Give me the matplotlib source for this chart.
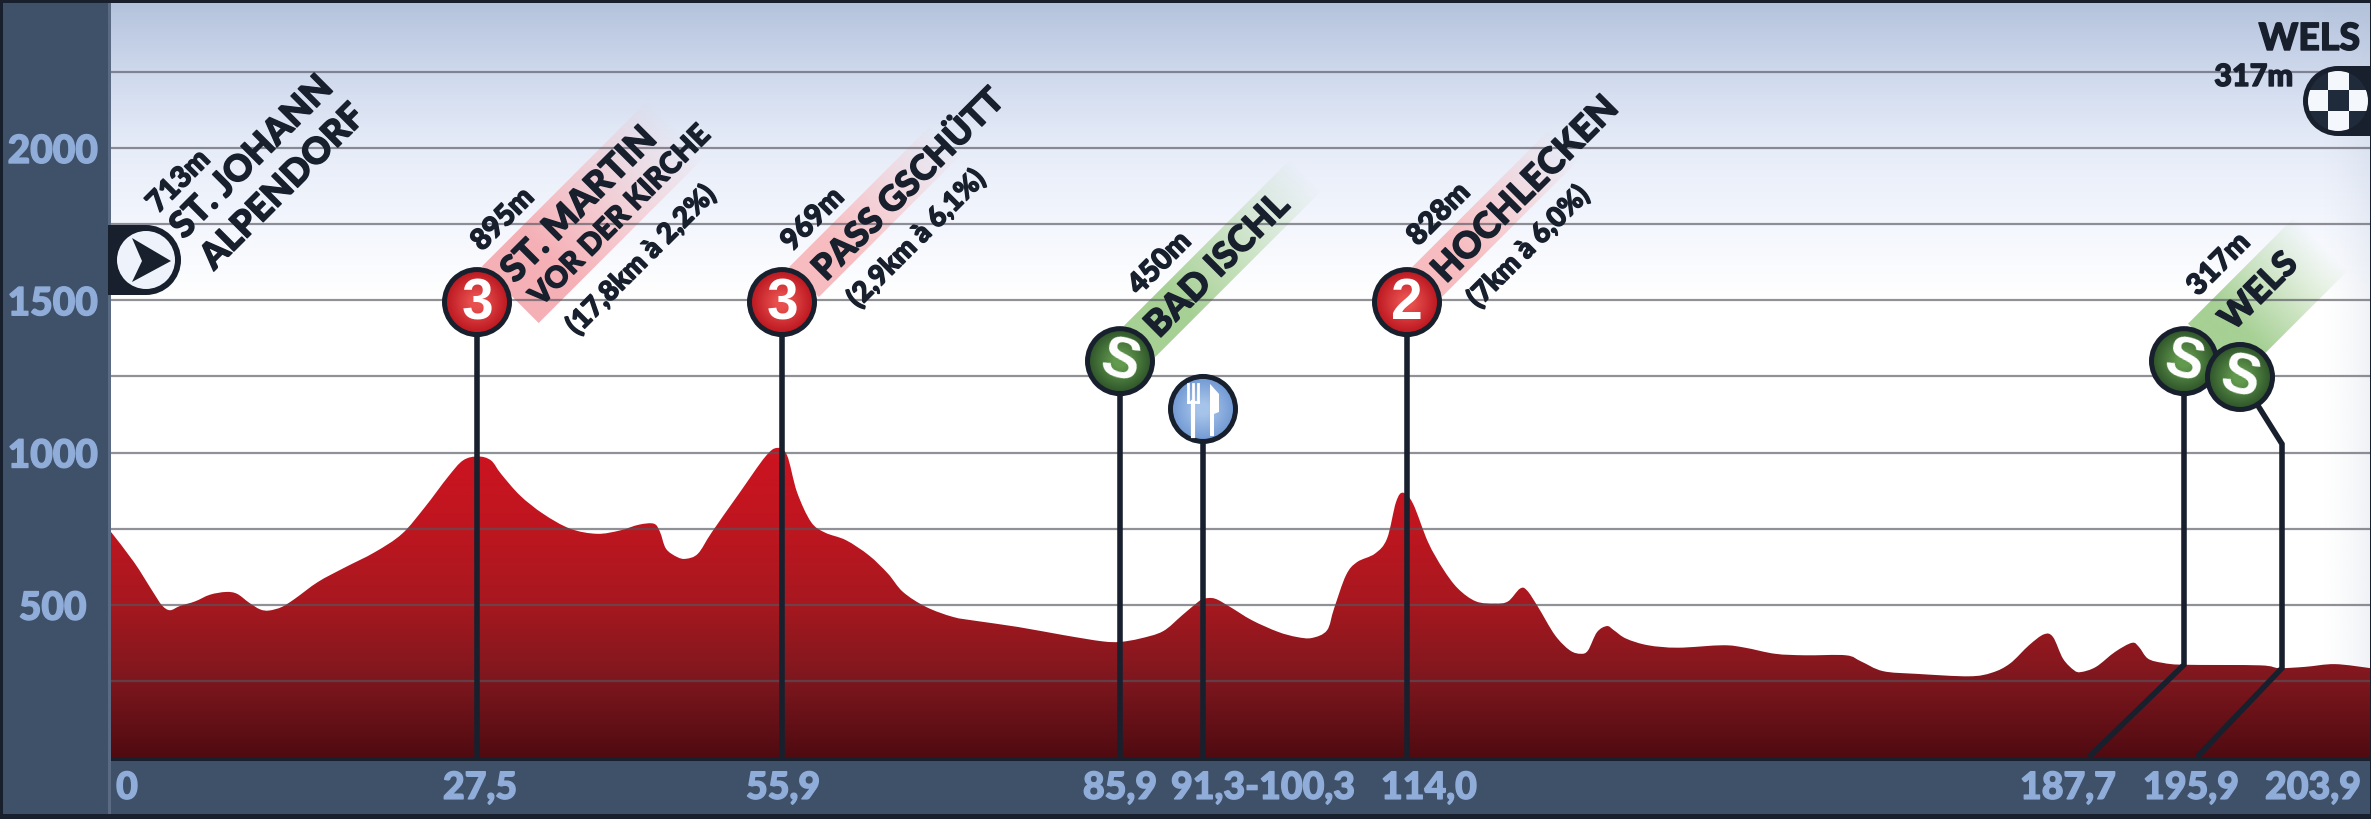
"""Stage profile St. Johann Alpendorf - Wels, redrawn from the picture."""

import matplotlib
matplotlib.use("Agg")
import matplotlib.patheffects as pe
import matplotlib.pyplot as plt
import numpy as np
from matplotlib.colors import LinearSegmentedColormap, to_rgb
from matplotlib.patches import Circle, PathPatch, Polygon, Rectangle
from matplotlib.path import Path
from matplotlib.transforms import Affine2D, IdentityTransform

W, H = 2371, 820
FONT = ["Lato", "DejaVu Sans"]
INK = "#18202e"
PANEL = "#3f5069"
TICK_COL = "#8fadd8"
PX_PER_M = 0.3045

# route position on the drawn axis (the picture's x axis is not linear in km)
PROFILE_X = [111, 134, 153, 162, 170, 180, 195, 210, 226, 237, 249, 260, 269, 282, 295,
             318, 344, 375, 402, 425, 448, 463, 478, 491, 501, 520, 543, 570, 597, 620,
             639, 654, 660, 666, 677, 686, 698, 712, 739, 765, 777, 787, 797, 811, 825,
             846, 869, 888, 903, 926, 953, 976, 1018, 1064, 1102, 1120, 1140, 1163, 1182, 1198,
             1204, 1215, 1230, 1252, 1278, 1297, 1312, 1327, 1334, 1346, 1357, 1375, 1387, 1396, 1403,
             1413, 1428, 1443, 1458, 1476, 1495, 1508, 1520, 1527, 1538, 1555, 1570, 1581, 1588, 1597,
             1607, 1614, 1626, 1648, 1678, 1723, 1745, 1775, 1805, 1846, 1861, 1883, 1917, 1969, 1992,
             2010, 2029, 2044, 2053, 2063, 2074, 2081, 2096, 2115, 2132, 2139, 2148, 2163, 2184, 2260,
             2279, 2305, 2335, 2370]
PROFILE_M = [739, 640, 542, 498, 482, 496, 511, 533, 542, 536, 507, 485, 481, 493, 520,
             575, 621, 673, 733, 821, 920, 974, 987, 974, 930, 859, 799, 750, 733, 744,
             763, 766, 739, 684, 657, 651, 668, 739, 865, 985, 1015, 991, 870, 772, 737,
             712, 662, 602, 542, 493, 460, 447, 427, 400, 380, 378, 389, 413, 465, 509,
             520, 520, 493, 449, 411, 394, 391, 416, 487, 597, 640, 668, 717, 837, 868,
             832, 706, 618, 553, 511, 504, 511, 553, 547, 493, 400, 350, 339, 350, 410,
             430, 416, 389, 367, 359, 367, 359, 339, 334, 334, 314, 282, 273, 265, 277,
             307, 367, 403, 394, 323, 285, 279, 296, 345, 375, 361, 323, 309, 303, 301,
             292, 296, 305, 292]

GRID_LEVELS = [250, 500, 750, 1000, 1250, 1500, 1750, 2000, 2250]
Y_TICKS = [500, 1000, 1500, 2000]
X_LABEL_POS = [127, 480, 783, 1120, 1263, 1429, 2068, 2191, 2313]
X_LABELS = ["0", "27,5", "55,9", "85,9", "91,3-100,3", "114,0", "187,7", "195,9", "203,9"]

# badges: x position, height on the elevation axis, letter, colours
BADGE_X = [477, 782, 1120, 1407, 2184, 2240]
BADGE_M = [1494, 1494, 1300, 1494, 1300, 1248]
BADGE_TXT = ["3", "3", "S", "2", "S", "S"]
RED = ("#e8504e", "#b9141d")
GREEN = ("#629a4e", "#2c5128")
BADGE_COL = [RED, RED, GREEN, RED, GREEN, GREEN]
FOOD_X, FOOD_M = 1203, 1143

# slanted text: picture position of the baseline start, size, string
SLANT_X = [184, 214, 158, 482, 515, 541, 577, 792, 826, 858, 1139, 1159, 1418, 1446, 1478, 2198, 2233]
SLANT_Y = [241, 272, 215, 253, 285, 308, 337, 253, 283, 310, 297, 340, 248, 285, 310, 298, 333]
SLANT_SIZE = [26, 26, 21, 21, 26, 21, 20, 21, 25, 20, 21, 26, 21, 26, 20, 21, 25]
SLANT_TXT = ["ST. JOHANN", "ALPENDORF", "713m", "895m", "ST. MARTIN", "VOR DER KIRCHE",
             "(17,8km à 2,2%)", "969m", "PASS GSCHÜTT", "(2,9km à 6,1%)", "450m", "BAD ISCHL",
             "828m", "HOCHLECKEN", "(7km à 6,0%)", "317m", "WELS"]

# coloured strips behind the names: start corner, length, width
BAND_X = [482, 789, 1124, 1412, 2188]
BAND_Y = [267, 268, 327, 268, 325]
BAND_LEN = [235, 200, 235, 195, 150]
BAND_WID = [80, 42, 44, 42, 75]
BAND_COL = ["#f5b0b6", "#f7bcc0", "#a6d094", "#f7bcc0", "#a6d094"]

# picture pixels, y downwards
PX = Affine2D().scale(1, -1).translate(0, H)


def hex_ramp(stops, colours, n=400):
    """Vertical colour ramp, first row is the top of the image."""
    pos = np.linspace(stops[0], stops[-1], n)
    rgb = np.array([to_rgb(c) for c in colours])
    return np.stack([np.interp(pos, stops, rgb[:, i]) for i in range(3)], axis=1)[:, None, :]


def profile_path(xs, ys):
    """Closed outline through the read points, drawn with smooth bezier segments."""
    pts = np.column_stack([xs, ys]).astype(float)
    verts = [pts[0]]
    codes = [Path.MOVETO]
    for i in range(len(pts) - 1):
        prev = pts[max(i - 1, 0)]
        nxt = pts[min(i + 2, len(pts) - 1)]
        verts += [pts[i] + (pts[i + 1] - prev) / 6, pts[i + 1] - (nxt - pts[i]) / 6, pts[i + 1]]
        codes += [Path.CURVE4] * 3
    verts += [(xs[-1], 0), (xs[0], 0), pts[0]]
    codes += [Path.LINETO, Path.LINETO, Path.CLOSEPOLY]
    return Path(verts, codes)


def badge(ax, cx, cy, inner, outer, zorder=6, r=35, ring=5):
    """Round sign with dark ring and a soft radial fill, centre in display px."""
    ax.add_patch(Circle((cx, cy), r, transform=IdentityTransform(), fc=INK, ec="none", zorder=zorder))
    yy, xx = np.mgrid[-1:1:80j, -1:1:80j]
    cmap = LinearSegmentedColormap.from_list("b", [inner, outer])
    rim = Circle((cx, cy), r - ring, transform=IdentityTransform(), fc="none", ec="none", zorder=zorder)
    ax.add_patch(rim)
    s = r - ring
    im = ax.imshow(np.hypot(xx, yy), cmap=cmap, vmin=0.2, vmax=1.1, aspect="auto", zorder=zorder,
                   extent=(0, 1, 0, 1), transform=Affine2D().scale(2 * s).translate(cx - s, cy - s))
    im.set_clip_path(rim)


def band(ax, x, y, length, width, colour):
    """Strip running up at 45 degrees, fading out towards its far end."""
    rgba = np.zeros((1, 200, 4))
    rgba[..., :3] = to_rgb(colour)
    rgba[..., 3] = np.clip((1 - np.linspace(0, 1, 200)) * 1.3, 0, 1)
    px, py = PX.transform((x, y))
    tr = Affine2D().scale(length, -width).rotate_deg(45).translate(px, py)
    ax.imshow(rgba, aspect="auto", extent=(0, 1, 0, 1), transform=tr, zorder=2,
              interpolation="bilinear", clip_on=False)


def main():
    fig = plt.figure(figsize=(W / 100, H / 100), dpi=100, facecolor=INK)
    fig.add_artist(Rectangle((3, 4), 105, 811, transform=PX, fc=PANEL, ec="none"))
    fig.add_artist(Rectangle((108, 4), 3, 811, transform=PX, fc="#5a6a83", ec="none"))
    fig.add_artist(Rectangle((111, 762), 2259, 53, transform=PX, fc=PANEL, ec="none"))

    ax = fig.add_axes([111 / W, 62 / H, 2259 / W, 754 / H])
    ax.set_zorder(5)
    ax.set_xlim(111, 2370)
    top_m = 754 / PX_PER_M
    ax.set_ylim(0, top_m)
    ax.set_autoscale_on(False)
    for s in ax.spines.values():
        s.set_visible(False)

    # sky
    sky = hex_ramp([0, 69, 143, 219, 296, 754], ["#b4c3dc", "#cfd9ed", "#e6ecf8", "#f3f6fd", "#ffffff", "#ffffff"])
    ax.imshow(sky, aspect="auto", extent=(0, 1, 0, 1), transform=ax.transAxes, zorder=0)
    fade = np.zeros((1, 100, 4))
    fade[..., :3] = to_rgb("#b4c0d4")
    fade[..., 3] = np.linspace(0, 0.35, 100) ** 1.5
    ax.imshow(fade, aspect="auto", extent=(2320, 2370, 0, top_m), zorder=0.5)

    for x, y, ln, wd, col in zip(BAND_X, BAND_Y, BAND_LEN, BAND_WID, BAND_COL):
        band(ax, x, y, ln, wd, col)

    # profile with vertical gradient
    ramp = hex_ramp([0, 260, 510, 760, 1020], ["#cc1420", "#bf1620", "#a8181f", "#7f171e", "#4f0b11"])
    shape = PathPatch(profile_path(PROFILE_X, PROFILE_M), fc="none", ec="none", zorder=3)
    ax.add_patch(shape)
    im = ax.imshow(ramp, aspect="auto", extent=(111, 2370, 0, 1020), zorder=3)
    im.set_clip_path(shape)

    ax.hlines(GRID_LEVELS, 111, 2370, colors="#55555f", linewidth=1.6, alpha=0.65, zorder=4)

    # poles
    pole = dict(color=INK, lw=4, zorder=5, solid_capstyle="butt", solid_joinstyle="miter")
    for x, m in zip(BADGE_X[:4], BADGE_M[:4]):
        ax.plot([x, x], [m, 0], **pole)
    ax.plot([FOOD_X, FOOD_X], [FOOD_M, 0], **pole)
    ax.plot([2184, 2184, 2089], [1300, 303, 0], **pole)
    ax.plot([2240, 2282, 2282, 2197], [1248, 1028, 292, 0], **pole)

    for x, m, txt, col in zip(BADGE_X, BADGE_M, BADGE_TXT, BADGE_COL):
        cx, cy = ax.transData.transform((x, m))
        badge(ax, cx, cy, col[0], col[1])
        ax.text(cx, cy - 1, txt, transform=IdentityTransform(), color="white", ha="center", va="center",
                family="Liberation Sans", fontweight="bold", fontsize=41, zorder=7,
                rotation=-15 if txt == "S" else 0)

    # lunch sign
    cx, cy = ax.transData.transform((FOOD_X, FOOD_M))
    ident = IdentityTransform()
    badge(ax, cx, cy, "#a6c4ea", "#6f97d2")
    for dx in (-15, -10, -5):
        ax.plot([cx + dx, cx + dx], [cy + 25, cy + 7], color="white", lw=2, transform=ident, zorder=7)
    ax.plot([cx - 15, cx - 5], [cy + 7, cy + 7], color="white", lw=2, transform=ident, zorder=7)
    ax.plot([cx - 10, cx - 10], [cy + 7, cy - 27], color="white", lw=3, transform=ident, zorder=7)
    ax.add_patch(Polygon([(cx + 7, cy + 25), (cx + 16, cy + 15), (cx + 16, cy - 3), (cx + 11, cy - 5),
                          (cx + 11, cy - 27), (cx + 7, cy - 27)], transform=ident,
                         fc="white", ec="none", zorder=7))

    # start tab
    ax.add_patch(Rectangle((108, 226), 38, 70, transform=PX, fc=INK, ec="none", zorder=6, clip_on=False))
    ax.add_patch(Circle((146, 261), 35, transform=PX, fc=INK, ec="none", zorder=6))
    ax.add_patch(Circle((146, 261), 29, transform=PX, fc="#eef2fa", ec="none", zorder=6))
    ax.add_patch(Polygon([(132, 239), (171, 262), (132, 283), (142, 262)], transform=PX, fc=INK, ec="none", zorder=7))

    # finish tab with checker
    ax.add_patch(Rectangle((2338, 67), 33, 70, transform=PX, fc=INK, ec="none", zorder=6, clip_on=False))
    ax.add_patch(Circle((2338, 102), 35, transform=PX, fc=INK, ec="none", zorder=6))
    ring = Circle((2338, 102), 30, transform=PX, fc="none", ec="none", zorder=7)
    ax.add_patch(ring)
    px, py = PX.transform((2338, 102))
    checker = ax.imshow([[0, 1, 0], [1, 0, 1], [0, 1, 0]],
                        cmap=LinearSegmentedColormap.from_list("c", ["#1f2a3b", "#f4f7fc"]),
                        aspect="auto", extent=(0, 1, 0, 1), zorder=7, interpolation="nearest",
                        transform=Affine2D().scale(63).translate(px - 31.5, py - 31.5))
    checker.set_clip_path(ring)

    # the reference lettering is heavier than any installed face, so thicken it a little
    heavy = [pe.withStroke(linewidth=1.0, foreground=INK)]

    # slanted names
    for x, y, size, txt in zip(SLANT_X, SLANT_Y, SLANT_SIZE, SLANT_TXT):
        ax.text(x, y, txt, transform=PX, rotation=45, rotation_mode="anchor", ha="left", va="baseline",
                family=FONT, fontweight="black", fontsize=size, color=INK, zorder=8, clip_on=False,
                path_effects=heavy)
    ax.text(2360, 51, "WELS", transform=PX, ha="right", va="baseline", family=FONT, fontweight="black",
            fontsize=27, color=INK, zorder=8, path_effects=heavy)
    ax.text(2293, 87, "317m", transform=PX, ha="right", va="baseline", family=FONT, fontweight="black",
            fontsize=22, color=INK, zorder=8, path_effects=heavy)

    # axis labels
    tick_heavy = [pe.withStroke(linewidth=1.0, foreground=TICK_COL)]
    ax.set_yticks(Y_TICKS)
    ax.set_yticklabels([str(v) for v in Y_TICKS], family=FONT, fontweight="black", fontsize=28,
                       color=TICK_COL, ha="center", path_effects=tick_heavy)
    ax.tick_params(axis="y", length=0, pad=42)
    ax.set_xticks(X_LABEL_POS)
    ax.set_xticklabels(X_LABELS, family=FONT, fontweight="black", fontsize=27, color=TICK_COL,
                       path_effects=tick_heavy)
    ax.tick_params(axis="x", length=0, pad=10)

    fig.savefig("out.png", dpi=100, facecolor=fig.get_facecolor())
    plt.close(fig)


if __name__ == "__main__":
    main()
